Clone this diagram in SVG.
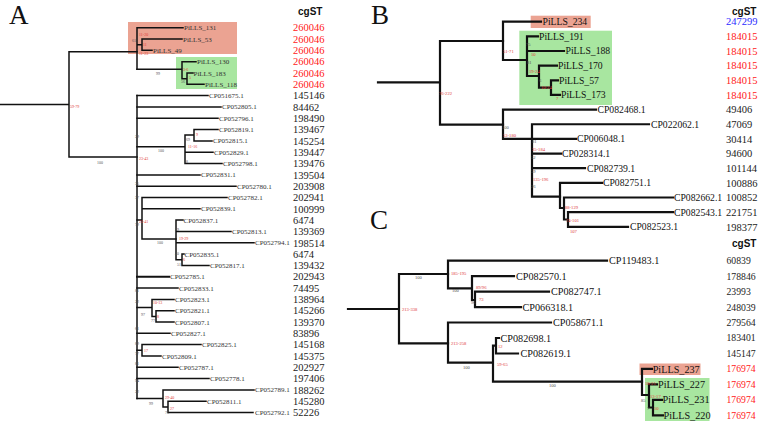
<svg xmlns="http://www.w3.org/2000/svg" width="758" height="421" viewBox="0 0 758 421">
<style>
.bg{fill:#fff}
.ta{fill:none;stroke:#111;stroke-width:1.5;stroke-linecap:square}
.tb{fill:none;stroke:#111;stroke-width:2.2;stroke-linecap:square}
.big{font-family:"Liberation Serif",serif;font-size:27px;fill:#111}
.hd{font-family:"Liberation Sans",Arial,sans-serif;font-size:10px;font-weight:bold;fill:#111}
.la{font-family:"Liberation Serif",serif;font-size:7px;fill:#333}
.lb{font-family:"Liberation Serif",serif;font-size:9.7px;fill:#111}
.lc{font-family:"Liberation Serif",serif;font-size:10.2px;fill:#111}
.va{font-family:"Liberation Serif",serif;font-size:10.5px;fill:#222}
.vc{font-family:"Liberation Serif",serif;font-size:9.7px;fill:#222}
.red{fill:#ff2020}
.blue{fill:#2a2aff}
.s{font-family:"Liberation Serif",serif;font-size:4px;fill:#555}
.s5{font-family:"Liberation Serif",serif;font-size:4.6px;fill:#555}
.r{fill:#e03a3a}
.sal{fill:#eba392}
.grn{fill:#a8e6a0}
</style>
<rect class="bg" x="0" y="0" width="758" height="421"/>

<!-- Panel letters and headers -->
<g id="panel-labels">
<text class="big" x="9" y="24">A</text>
<text class="big" x="371" y="24">B</text>
<text class="big" x="370" y="229">C</text>
<text class="hd" x="298" y="14.5">cgST</text>
<text class="hd" x="732" y="14.5">cgST</text>
<text class="hd" x="732" y="247">cgST</text>
</g>

<!-- Highlight boxes -->
<g id="highlights">
<rect class="sal" x="128" y="22" width="109" height="32"/>
<rect class="grn" x="176" y="57" width="61" height="32"/>
<rect class="sal" x="530.7" y="15.7" width="60" height="12.3"/>
<rect class="grn" x="519.3" y="30.7" width="92.7" height="74.3"/>
<rect class="sal" x="639.5" y="363.5" width="61" height="11.5"/>
<rect class="grn" x="645" y="378" width="64.5" height="43"/>
</g>

<!-- Connectors -->
<g id="connectors-A" class="ta">
<path d="M0,104.4H69M69,51.7V157M69,51.7H137M69,157H137"/>
<path d="M137,27.7V69.3M137,27.7H183M137,44.7H142M142,39V50.3M142,39H182M142,50.3H152"/>
<path d="M137,69.3H182M182,61.7V78.7M182,61.7H196M182,78.7H187M187,73V84.3M187,73H193M187,84.3H204"/>
<path d="M137,95.6V398.5"/>
<path d="M137,95.6H208M137,106.9H221M137,118.3H218"/>
<path d="M137,146.7H185M185,135V163.5M185,135H194M194,129.6V140.9M194,129.6H218M194,140.9H212M185,152.2H213M185,163.5H222"/>
<path d="M137,174.9H200M137,186.2H236"/>
<path d="M137,220H142M142,197.5V239M142,197.5H227M142,208.8H200M142,239H176"/>
<path d="M176,220.1V259.7M176,220.1H183M176,231.4H231M176,242.8H254M176,259.7H182M182,254.1V265.4M182,254.1H184M182,265.4H209"/>
<path d="M137,276.7H169" style="stroke-width:2"/>
<path d="M137,288H178"/>
<path d="M137,307.5H152M152,299.4V316.4M152,299.4H174M152,316.4H156M156,310.7V322M156,310.7H174M156,322H174"/>
<path d="M137,333.3H170"/>
<path d="M137,350.3H142M142,344.6V356M142,344.6H201M142,356H161"/>
<path d="M137,367.3H178M137,378.6H209"/>
<path d="M137,398.5H163M163,389.9V406.9M163,389.9H254M163,406.9H168M168,401.2V412.6M168,401.2H206M168,412.6H253"/>
</g>

<g id="connectors-B" class="tb">
<path d="M378,82.3H440M440,41V124.7M440,41H503M440,124.7H503"/>
<path d="M503,21.7V60M503,21.7H541M503,60H527M527,36.35V76M527,36.35H538M527,51H564M527,76H539M539,65.65V87.6M539,65.65H557M539,87.6H551M551,80.3V94.95M551,80.3H558M551,94.95H560"/>
<path d="M503,109.6V138.9M503,109.6H596M503,138.9H532"/>
<path d="M532,124.25V196.7M532,124.25H649M532,138.9H576M532,153.55H561M532,168.2H585M532,196.7H560"/>
<path d="M560,182.85V208M560,182.85H602M560,208H564M564,197.5V219.5M564,197.5H673M564,219.5H568M568,212.15V226.8M568,212.15H673M568,226.8H628"/>
</g>

<g id="connectors-C" class="tb">
<path d="M348,309H399M399,274V343.3M399,274H448M399,343.3H448"/>
<path d="M448,260.7V288.3M448,260.7H607M448,288.3H472M472,276.2V300M472,276.2H514M472,300H475M475,291.6V307.1M475,291.6H549M475,307.1H521"/>
<path d="M448,322.5V362.7M448,322.5H551M448,362.7H493M493,345.7V381.7M493,345.7H496M496,338V353.5M496,338H499M496,353.5H518M493,381.7H642"/>
<path d="M642,368.9V395M642,368.9H652M642,395H649M649,384.4V407.5M649,384.4H657M649,407.5H653M653,399.8V415.3M653,399.8H662M653,415.3H663"/>
</g>

<!-- Support values panel A -->
<g id="support-A">
<text class="s r" x="70" y="107.5">59-79</text>
<text class="s" x="97" y="163.5">100</text>
<text class="s" x="132" y="41.5">61</text>
<text class="s r" x="139" y="36">11-20</text>
<text class="s r" x="143" y="46">11</text>
<text class="s r" x="139" y="54.5">11-23</text>
<text class="s" x="156" y="75">99</text>
<text class="s r" x="183" y="71">3-6</text>
<text class="s r" x="189" y="79">5</text>
<text class="s" x="181" y="83">56</text>
<text class="s" x="135" y="138">29</text>
<text class="s r" x="139" y="160">23-43</text>
<text class="s" x="158" y="152">100</text>
<text class="s" x="186" y="141">69</text>
<text class="s r" x="196" y="136">9</text>
<text class="s r" x="188" y="148">11-16</text>
<text class="s" x="184" y="163">58</text>
<text class="s" x="135" y="185">35</text>
<text class="s" x="135" y="199">37</text>
<text class="s r" x="139" y="223">23-41</text>
<text class="s" x="135" y="226">79</text>
<text class="s" x="157" y="244">100</text>
<text class="s" x="175" y="231">39</text>
<text class="s r" x="179" y="240">19-29</text>
<text class="s" x="175" y="255">40</text>
<text class="s r" x="183" y="261">6</text>
<text class="s" x="177" y="266">51</text>
<text class="s" x="135" y="292">81</text>
<text class="s" x="135" y="303">22</text>
<text class="s r" x="153" y="304">10-13</text>
<text class="s r" x="157" y="318">8</text>
<text class="s" x="141" y="316">97</text>
<text class="s" x="151" y="322">77</text>
<text class="s" x="135" y="330">61</text>
<text class="s" x="135" y="345">89</text>
<text class="s r" x="144" y="352">17</text>
<text class="s" x="135" y="355">77</text>
<text class="s" x="135" y="365">81</text>
<text class="s" x="135" y="382">94</text>
<text class="s" x="135" y="393">22</text>
<text class="s r" x="165" y="399">29-40</text>
<text class="s" x="149" y="405">99</text>
<text class="s r" x="170" y="410">27</text>
<text class="s" x="165" y="414">76</text>
</g>

<!-- Support values panel B -->
<g id="support-B">
<text class="s5 r" x="439" y="94.5">76-222</text>
<text class="s5 r" x="503" y="53">51-71</text>
<text class="s5" x="526" y="46">75</text>
<text class="s5 r" x="531" y="56">10</text>
<text class="s5" x="527" y="64">81</text>
<text class="s5 r" x="529" y="72.5">19-24</text>
<text class="s5" x="539" y="82">6</text>
<text class="s5 r" x="541" y="88.5">10-24</text>
<text class="s5 r" x="556" y="99.5">7</text>
<text class="s5" x="502" y="128.5">100</text>
<text class="s5 r" x="503" y="136.5">53-180</text>
<text class="s5" x="532" y="143">81</text>
<text class="s5 r" x="532" y="150.5">35-184</text>
<text class="s5" x="531" y="159">52</text>
<text class="s5" x="531" y="173">59</text>
<text class="s5 r" x="533" y="180.5">135-196</text>
<text class="s5" x="531" y="188">26</text>
<text class="s5 r" x="565" y="208.5">88-129</text>
<text class="s5 r" x="566" y="221.5">74-101</text>
<text class="s5 r" x="570" y="232.5">107</text>
</g>

<!-- Support values panel C -->
<g id="support-C">
<text class="s5" x="415" y="278.5">100</text>
<text class="s5 r" x="402" y="310.5">213-338</text>
<text class="s5 r" x="451" y="275">185-195</text>
<text class="s5" x="452" y="291.5">100</text>
<text class="s5 r" x="476" y="289">89/96</text>
<text class="s5 r" x="479" y="300.5">73</text>
<text class="s5" x="471" y="303.5">96</text>
<text class="s5 r" x="451" y="344.5">213-258</text>
<text class="s5" x="463" y="368.5">100</text>
<text class="s5 r" x="498" y="347.5">12</text>
<text class="s5 r" x="497" y="365.5">59-65</text>
<text class="s5" x="549" y="386.5">100</text>
<text class="s5 r" x="645" y="384.5">18-21</text>
<text class="s5 r" x="650" y="397.5">13-17</text>
<text class="s5" x="641" y="401.5">85</text>
<text class="s5 r" x="654" y="410">10</text>
<text class="s5" x="647" y="410">7</text>
</g>

<!-- Panel A leaves -->
<g id="A-PiLLS_131"><text class="la" x="184" y="30.2">PiLLS_131</text><text class="va red" x="293" y="31.4">260046</text></g>
<g id="A-PiLLS_53"><text class="la" x="183" y="41.5">PiLLS_53</text><text class="va red" x="293" y="42.7">260046</text></g>
<g id="A-PiLLS_49"><text class="la" x="153" y="52.8">PiLLS_49</text><text class="va red" x="293" y="54">260046</text></g>
<g id="A-PiLLS_130"><text class="la" x="197" y="64.2">PiLLS_130</text><text class="va red" x="293" y="65.4">260046</text></g>
<g id="A-PiLLS_183"><text class="la" x="193.5" y="75.5">PiLLS_183</text><text class="va red" x="293" y="76.7">260046</text></g>
<g id="A-PiLLS_118"><text class="la" x="205" y="86.8">PiLLS_118</text><text class="va red" x="293" y="88">260046</text></g>
<g id="A-CP051675"><text class="la" x="209" y="98.1">CP051675.1</text><text class="va" x="293" y="99.3">145146</text></g>
<g id="A-CP052805"><text class="la" x="222" y="109.4">CP052805.1</text><text class="va" x="293" y="110.6">84462</text></g>
<g id="A-CP052796"><text class="la" x="219" y="120.8">CP052796.1</text><text class="va" x="293" y="122">198490</text></g>
<g id="A-CP052819"><text class="la" x="219" y="132.1">CP052819.1</text><text class="va" x="293" y="133.3">139467</text></g>
<g id="A-CP052815"><text class="la" x="213" y="143.4">CP052815.1</text><text class="va" x="293" y="144.6">145254</text></g>
<g id="A-CP052829"><text class="la" x="214" y="154.7">CP052829.1</text><text class="va" x="293" y="155.9">139447</text></g>
<g id="A-CP052798"><text class="la" x="223" y="166">CP052798.1</text><text class="va" x="293" y="167.2">139476</text></g>
<g id="A-CP052831"><text class="la" x="201" y="177.4">CP052831.1</text><text class="va" x="293" y="178.6">139504</text></g>
<g id="A-CP052780"><text class="la" x="237" y="188.7">CP052780.1</text><text class="va" x="293" y="189.9">203908</text></g>
<g id="A-CP052782"><text class="la" x="228" y="200">CP052782.1</text><text class="va" x="293" y="201.2">202941</text></g>
<g id="A-CP052839"><text class="la" x="201" y="211.3">CP052839.1</text><text class="va" x="293" y="212.5">100999</text></g>
<g id="A-CP052837"><text class="la" x="183.5" y="222.6">CP052837.1</text><text class="va" x="293" y="223.8">6474</text></g>
<g id="A-CP052813"><text class="la" x="232" y="233.9">CP052813.1</text><text class="va" x="293" y="235.1">139369</text></g>
<g id="A-CP052794"><text class="la" x="255" y="245.3">CP052794.1</text><text class="va" x="293" y="246.5">198514</text></g>
<g id="A-CP052835"><text class="la" x="184.5" y="256.6">CP052835.1</text><text class="va" x="293" y="257.8">6474</text></g>
<g id="A-CP052817"><text class="la" x="210" y="267.9">CP052817.1</text><text class="va" x="293" y="269.1">139432</text></g>
<g id="A-CP052785"><text class="la" x="170" y="279.2">CP052785.1</text><text class="va" x="293" y="280.4">202943</text></g>
<g id="A-CP052833"><text class="la" x="179" y="290.5">CP052833.1</text><text class="va" x="293" y="291.7">74495</text></g>
<g id="A-CP052823"><text class="la" x="175" y="301.9">CP052823.1</text><text class="va" x="293" y="303.1">138964</text></g>
<g id="A-CP052821"><text class="la" x="175" y="313.2">CP052821.1</text><text class="va" x="293" y="314.4">145266</text></g>
<g id="A-CP052807"><text class="la" x="175" y="324.5">CP052807.1</text><text class="va" x="293" y="325.7">139370</text></g>
<g id="A-CP052827"><text class="la" x="171" y="335.8">CP052827.1</text><text class="va" x="293" y="337">83896</text></g>
<g id="A-CP052825"><text class="la" x="202" y="347.1">CP052825.1</text><text class="va" x="293" y="348.3">145168</text></g>
<g id="A-CP052809"><text class="la" x="162" y="358.5">CP052809.1</text><text class="va" x="293" y="359.7">145375</text></g>
<g id="A-CP052787"><text class="la" x="179" y="369.8">CP052787.1</text><text class="va" x="293" y="371">202927</text></g>
<g id="A-CP052778"><text class="la" x="210" y="381.1">CP052778.1</text><text class="va" x="293" y="382.3">197406</text></g>
<g id="A-CP052789"><text class="la" x="255" y="392.4">CP052789.1</text><text class="va" x="293" y="393.6">188262</text></g>
<g id="A-CP052811"><text class="la" x="207" y="403.7">CP052811.1</text><text class="va" x="293" y="404.9">145280</text></g>
<g id="A-CP052792"><text class="la" x="255" y="415.1">CP052792.1</text><text class="va" x="293" y="416.3">52226</text></g>

<!-- Panel B leaves -->
<g id="B-PiLLS_234"><text class="lb" x="542.5" y="25.1">PiLLS_234</text><text class="va blue" x="726" y="25.4">247299</text></g>
<g id="B-PiLLS_191"><text class="lb" x="539" y="39.75">PiLLS_191</text><text class="va red" x="726" y="40.05">184015</text></g>
<g id="B-PiLLS_188"><text class="lb" x="565.5" y="54.4">PiLLS_188</text><text class="va red" x="726" y="54.7">184015</text></g>
<g id="B-PiLLS_170"><text class="lb" x="558" y="69.05">PiLLS_170</text><text class="va red" x="726" y="69.35">184015</text></g>
<g id="B-PiLLS_57"><text class="lb" x="559" y="83.7">PiLLS_57</text><text class="va red" x="726" y="84">184015</text></g>
<g id="B-PiLLS_173"><text class="lb" x="561" y="98.35">PiLLS_173</text><text class="va red" x="726" y="98.65">184015</text></g>
<g id="B-CP082468"><text class="lb" x="597.5" y="113">CP082468.1</text><text class="va" x="726" y="113.3">49406</text></g>
<g id="B-CP022062"><text class="lb" x="651" y="127.65">CP022062.1</text><text class="va" x="726" y="127.95">47069</text></g>
<g id="B-CP006048"><text class="lb" x="577" y="142.3">CP006048.1</text><text class="va" x="726" y="142.6">30414</text></g>
<g id="B-CP028314"><text class="lb" x="562" y="156.95">CP028314.1</text><text class="va" x="726" y="157.25">94600</text></g>
<g id="B-CP082739"><text class="lb" x="587" y="171.6">CP082739.1</text><text class="va" x="726" y="171.9">101144</text></g>
<g id="B-CP082751"><text class="lb" x="603" y="186.25">CP082751.1</text><text class="va" x="726" y="186.55">100886</text></g>
<g id="B-CP082662"><text class="lb" x="674" y="200.9">CP082662.1</text><text class="va" x="726" y="201.2">100852</text></g>
<g id="B-CP082543"><text class="lb" x="674" y="215.55">CP082543.1</text><text class="va" x="726" y="215.85">221751</text></g>
<g id="B-CP082523"><text class="lb" x="630" y="230.2">CP082523.1</text><text class="va" x="726" y="230.5">198377</text></g>

<!-- Panel C leaves -->
<g id="C-CP119483"><text class="lc" x="609" y="264.3">CP119483.1</text><text class="vc" x="726.5" y="264.1">60839</text></g>
<g id="C-CP082570"><text class="lc" x="516" y="279.8">CP082570.1</text><text class="vc" x="726.5" y="279.6">178846</text></g>
<g id="C-CP082747"><text class="lc" x="551" y="295.2">CP082747.1</text><text class="vc" x="726.5" y="295">23993</text></g>
<g id="C-CP066318"><text class="lc" x="522.5" y="310.7">CP066318.1</text><text class="vc" x="726.5" y="310.5">248039</text></g>
<g id="C-CP058671"><text class="lc" x="553" y="326.1">CP058671.1</text><text class="vc" x="726.5" y="325.9">279564</text></g>
<g id="C-CP082698"><text class="lc" x="500.5" y="341.6">CP082698.1</text><text class="vc" x="726.5" y="341.4">183401</text></g>
<g id="C-CP082619"><text class="lc" x="520.5" y="357.1">CP082619.1</text><text class="vc" x="726.5" y="356.9">145147</text></g>
<g id="C-PiLLS_237"><text class="lc" x="652.7" y="372.5">PiLLS_237</text><text class="vc red" x="726.5" y="372.3">176974</text></g>
<g id="C-PiLLS_227"><text class="lc" x="658" y="388">PiLLS_227</text><text class="vc red" x="726.5" y="387.8">176974</text></g>
<g id="C-PiLLS_231"><text class="lc" x="662.5" y="403.4">PiLLS_231</text><text class="vc red" x="726.5" y="403.2">176974</text></g>
<g id="C-PiLLS_220"><text class="lc" x="663.5" y="418.9">PiLLS_220</text><text class="vc red" x="726.5" y="418.7">176974</text></g>
</svg>
